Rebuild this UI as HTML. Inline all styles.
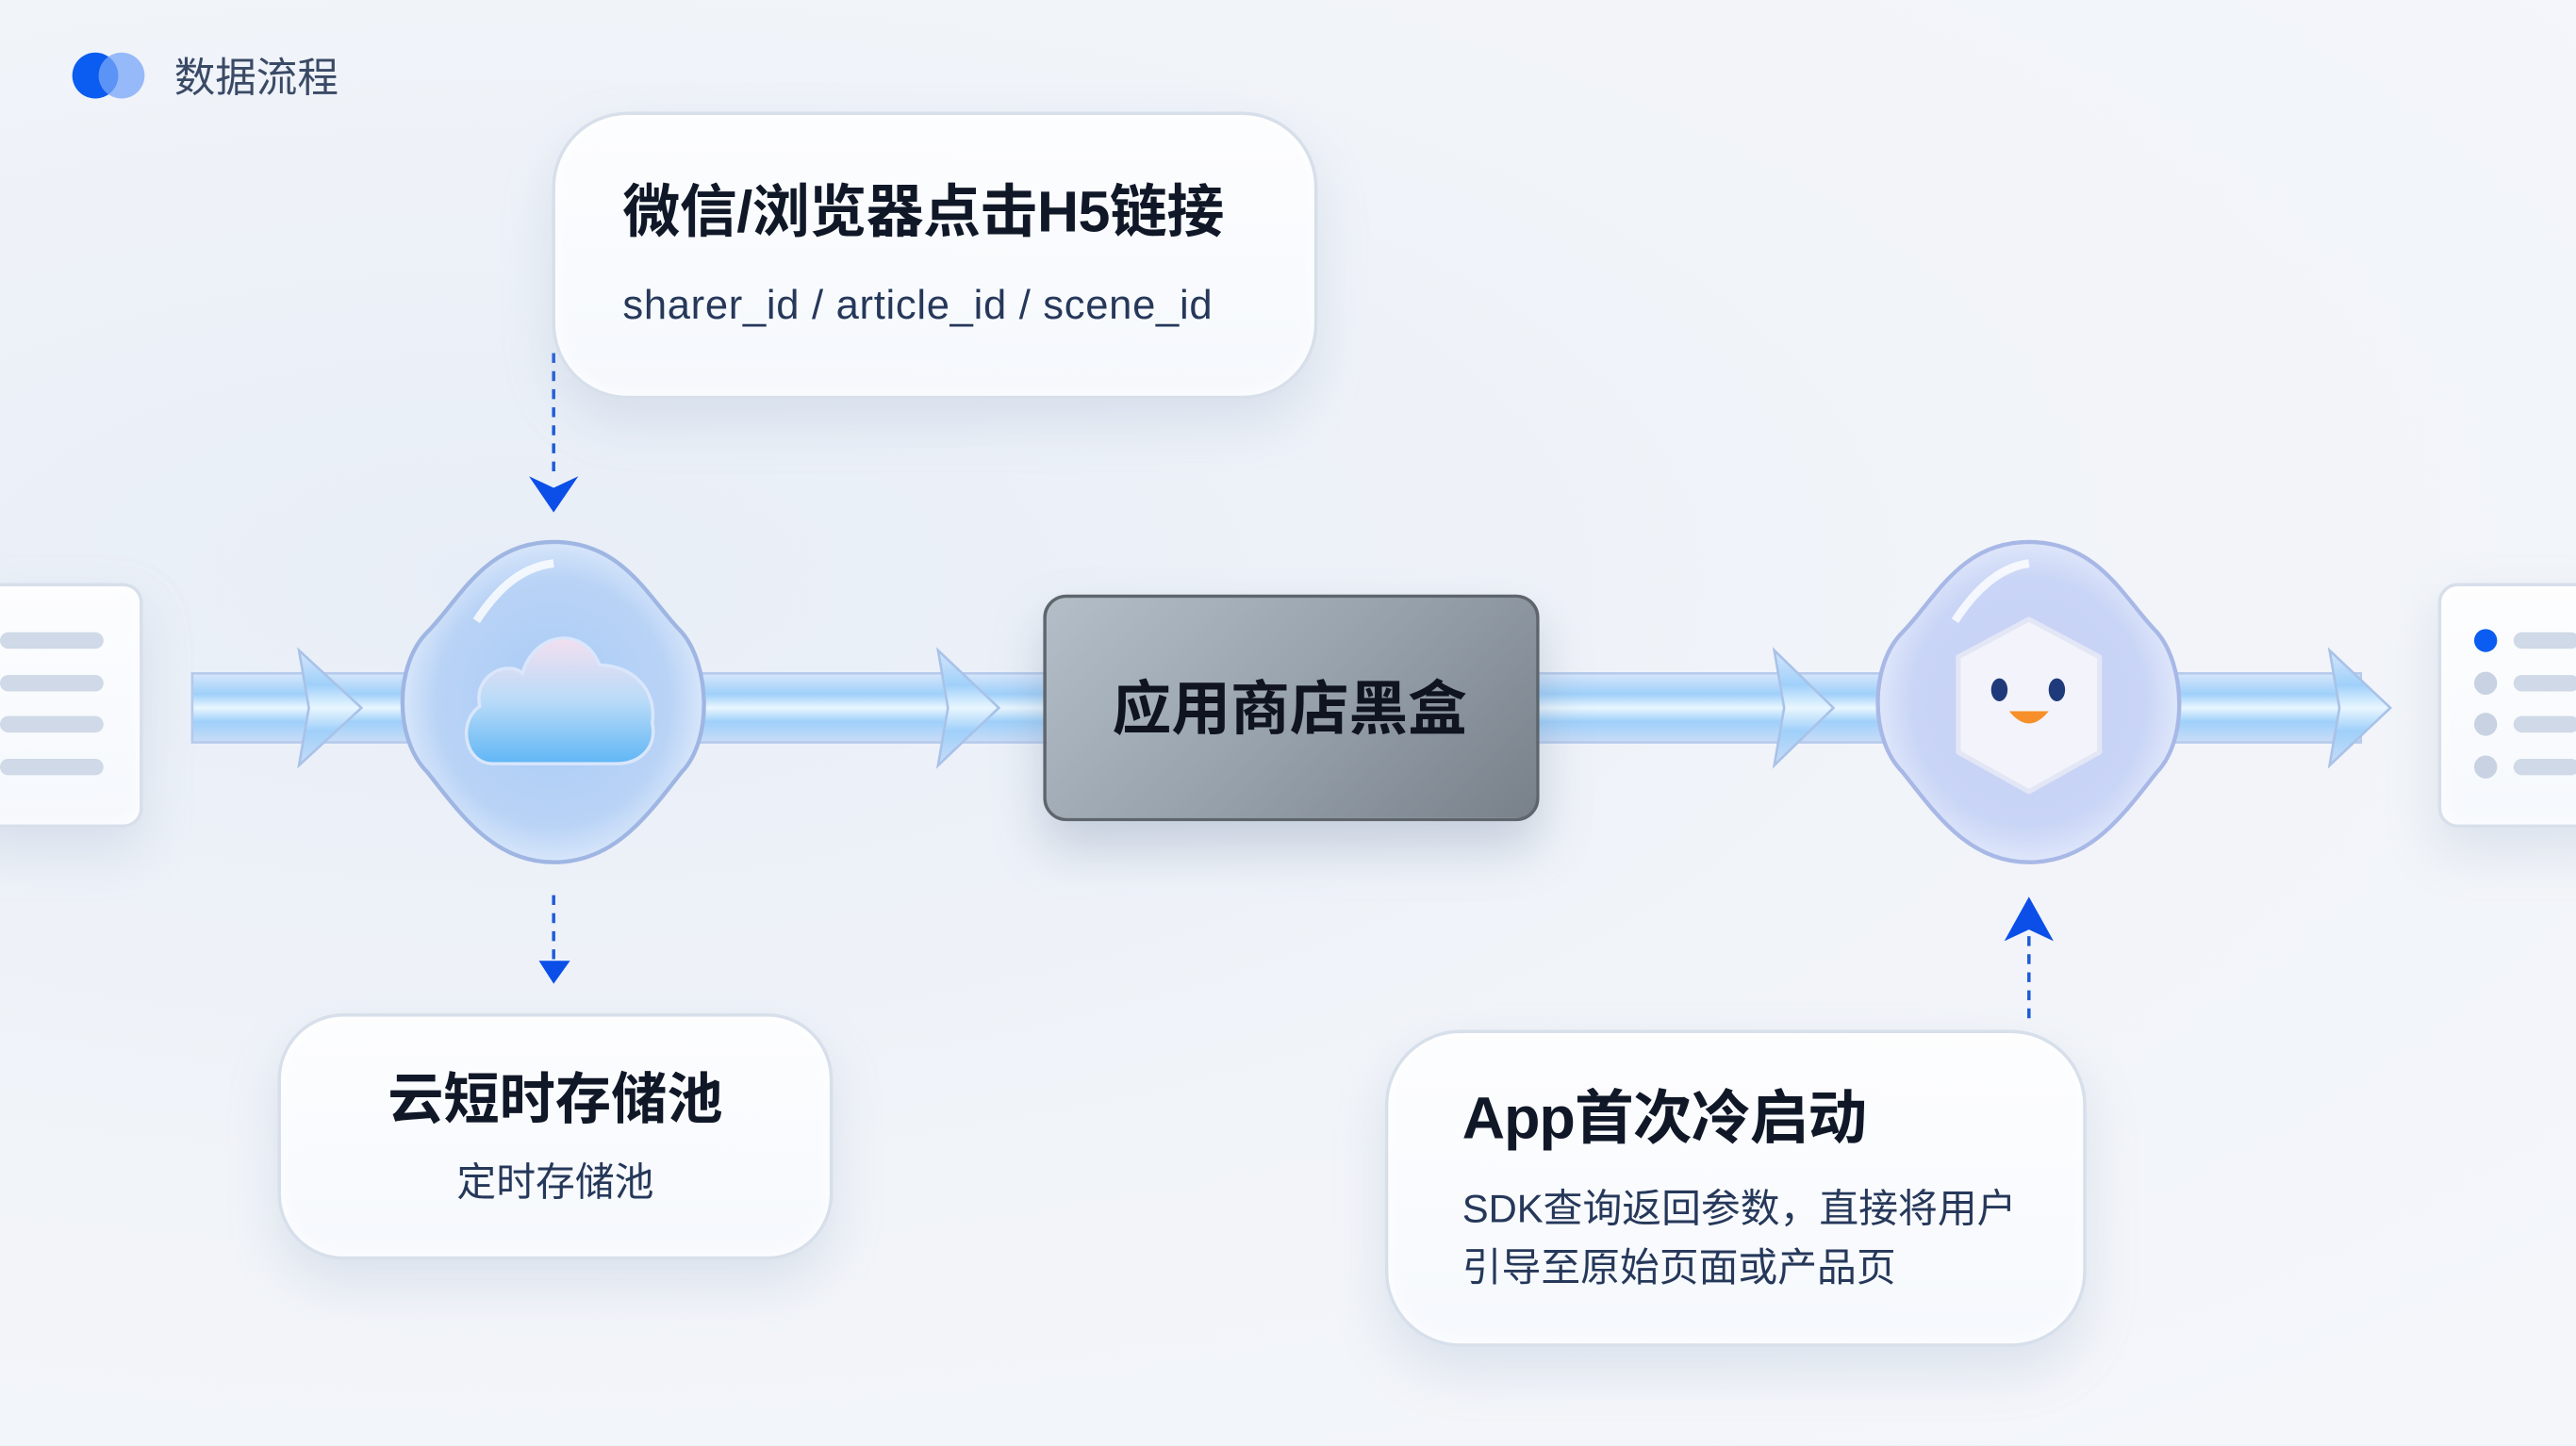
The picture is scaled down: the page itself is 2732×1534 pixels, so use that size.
<!DOCTYPE html>
<html><head><meta charset="utf-8"><style>
html,body{margin:0;padding:0;width:2732px;height:1534px;overflow:hidden;background:#eef2f8;}
#w{position:absolute;left:0;top:0;width:1568px;height:880px;transform:scale(1.74235);transform-origin:0 0;
background:radial-gradient(ellipse at 20% 40%,#e8eef7 0%,#f1f4f9 50%,#f4f6fa 100%);
font-family:"Liberation Sans","Noto Sans CJK SC",sans-serif;}
.a{position:absolute;}
.card{position:absolute;background:linear-gradient(180deg,rgba(255,255,255,0.85),rgba(246,249,253,0.9));border:2px solid #d7dfea;box-shadow:0 14px 30px rgba(150,170,200,0.25), inset 0 0 12px rgba(255,255,255,0.9);}
.t{position:absolute;white-space:nowrap;}
</style></head><body><div id="w">
<div class="a" style="left:44px;top:32px;width:28px;height:28px;border-radius:50%;background:#0b5cf0;"></div>
<div class="a" style="left:60px;top:32px;width:28px;height:28px;border-radius:50%;background:rgba(120,165,250,0.75);"></div>
<div class="t" style="left:106px;top:28px;font-size:25px;color:#3a4a66;">数据流程</div>

<svg class="a" style="left:0;top:0" width="1568" height="880">
<defs>
<linearGradient id="pg" x1="0" y1="0" x2="0" y2="1">
<stop offset="0" stop-color="#d6e6fb"/><stop offset="0.3" stop-color="#9fd0fa"/><stop offset="0.5" stop-color="#e9f6ff"/><stop offset="0.7" stop-color="#9fd0fa"/><stop offset="1" stop-color="#c9dcf7"/></linearGradient>
<radialGradient id="ng" cx="0.5" cy="0.5" r="0.55"><stop offset="0" stop-color="#a9cbf5"/><stop offset="0.7" stop-color="#b9d3f6"/><stop offset="1" stop-color="#e4eefc"/></radialGradient>
<radialGradient id="ng2" cx="0.5" cy="0.5" r="0.55"><stop offset="0" stop-color="#c6cff7"/><stop offset="0.7" stop-color="#c9d5f6"/><stop offset="1" stop-color="#e8eefc"/></radialGradient>
<linearGradient id="cg" x1="0" y1="0" x2="0" y2="1"><stop offset="0" stop-color="#f3dff0"/><stop offset="0.5" stop-color="#b9dbf8"/><stop offset="1" stop-color="#5fb6f5"/></linearGradient>
</defs>
<rect x="117" y="410" width="1320" height="42" fill="url(#pg)" stroke="#b6cbeb" stroke-width="1.5"/>
<g fill="url(#pg)" stroke="#a9c2e8" stroke-width="1.5">
<path d="M182 396 L220 431 L182 466 L188 431 Z"/>
<path d="M571 396 L608 431 L571 466 L577 431 Z"/>
<path d="M1080 396 L1116 431 L1080 466 L1086 431 Z"/>
<path d="M1418 396 L1455 431 L1418 466 L1424 431 Z"/>
</g>
<path d="M337 330 C380 330 395 365 415 385 C432 405 434 450 415 470 C395 495 375 525 337 525 C300 525 280 495 260 470 C240 450 240 405 260 385 C280 365 295 330 337 330 Z" fill="url(#ng)" stroke="#9fb6e3" stroke-width="2.5"/>
<path d="M290 378 C305 355 320 345 337 343" stroke="#fff" stroke-width="5" fill="none" opacity="0.8"/>
<path d="M300 465 C283 465 278 440 292 430 C288 410 310 402 318 410 C325 385 355 380 365 405 C385 405 400 420 397 440 C400 455 390 465 375 465 Z" fill="url(#cg)" stroke="#d9e6fb" stroke-width="2"/>
<path d="M1235 330 C1278 330 1293 365 1313 385 C1330 405 1332 450 1313 470 C1293 495 1273 525 1235 525 C1198 525 1178 495 1158 470 C1138 450 1138 405 1158 385 C1178 365 1193 330 1235 330 Z" fill="url(#ng2)" stroke="#a8b8e6" stroke-width="2.5"/>
<path d="M1190 378 C1205 355 1220 345 1235 343" stroke="#fff" stroke-width="5" fill="none" opacity="0.8"/>
<path d="M1235 377 L1278 400 L1278 458 L1235 482 L1192 458 L1192 400 Z" fill="#f3f4fb" stroke="#e2e6f5" stroke-width="3" stroke-linejoin="round"/>
<ellipse cx="1217" cy="420" rx="5" ry="7" fill="#1f3a7a"/>
<ellipse cx="1252" cy="420" rx="5" ry="7" fill="#1f3a7a"/>
<path d="M1223 433 Q1235 448 1247 433 Z" fill="#f7902a"/>
<line x1="337" y1="215" x2="337" y2="292" stroke="#1d5bd8" stroke-width="2" stroke-dasharray="6 5"/>
<path d="M322 290 L337 312 L352 290 L337 297 Z" fill="#0b4fe8"/>
<line x1="337" y1="545" x2="337" y2="587" stroke="#1d5bd8" stroke-width="2" stroke-dasharray="6 5"/>
<path d="M328 585 L337 599 L347 585 Z" fill="#0b4fe8"/>
<line x1="1235" y1="570" x2="1235" y2="625" stroke="#1d5bd8" stroke-width="2" stroke-dasharray="6 5"/>
<path d="M1220 573 L1235 546 L1250 573 L1235 566 Z" fill="#0b4fe8"/>
</svg>

<div class="card" style="left:-20px;top:355px;width:103px;height:145px;border-radius:12px;"></div>
<div class="a" style="left:0;top:385px;width:63px;height:10px;border-radius:5px;background:#cfd9e7"></div>
<div class="a" style="left:0;top:411px;width:63px;height:10px;border-radius:5px;background:#cfd9e7"></div>
<div class="a" style="left:0;top:436px;width:63px;height:10px;border-radius:5px;background:#cfd9e7"></div>
<div class="a" style="left:0;top:462px;width:63px;height:10px;border-radius:5px;background:#cfd9e7"></div>
<div class="card" style="left:1484px;top:355px;width:110px;height:145px;border-radius:12px;"></div>
<div class="a" style="left:1506px;top:383px;width:14px;height:14px;border-radius:50%;background:#0b5cf0"></div>
<div class="a" style="left:1506px;top:409px;width:14px;height:14px;border-radius:50%;background:#c8d2e2"></div>
<div class="a" style="left:1506px;top:434px;width:14px;height:14px;border-radius:50%;background:#c8d2e2"></div>
<div class="a" style="left:1506px;top:460px;width:14px;height:14px;border-radius:50%;background:#c8d2e2"></div>
<div class="a" style="left:1530px;top:385px;width:40px;height:10px;border-radius:5px;background:#cfd9e7"></div>
<div class="a" style="left:1530px;top:411px;width:40px;height:10px;border-radius:5px;background:#cfd9e7"></div>
<div class="a" style="left:1530px;top:436px;width:40px;height:10px;border-radius:5px;background:#cfd9e7"></div>
<div class="a" style="left:1530px;top:462px;width:40px;height:10px;border-radius:5px;background:#cfd9e7"></div>

<div class="a" style="left:635px;top:362px;width:298px;height:134px;border-radius:14px;background:linear-gradient(135deg,#b4bec8 0%,#98a2ac 50%,#78818a 100%);border:2px solid #5e656c;box-shadow:0 16px 30px rgba(120,140,170,0.35);"></div>
<div class="t" style="left:635px;top:407px;width:300px;text-align:center;font-size:36px;font-weight:bold;color:#0f1420;line-height:50px;">应用商店黑盒</div>

<div class="card" style="left:336px;top:68px;width:462px;height:171px;border-radius:46px;"></div>
<div class="t" style="left:379px;top:106px;font-size:35px;font-weight:bold;color:#101828;line-height:48px;letter-spacing:-0.3px;">微信/浏览器点击H5链接</div>
<div class="t" style="left:379px;top:170px;font-size:25px;color:#26385a;line-height:32px;letter-spacing:0.4px;">sharer_id / article_id / scene_id</div>

<div class="card" style="left:169px;top:617px;width:334px;height:146px;border-radius:40px;"></div>
<div class="t" style="left:169px;top:647px;width:338px;text-align:center;font-size:34px;font-weight:bold;color:#101828;line-height:46px;">云短时存储池</div>
<div class="t" style="left:169px;top:705px;width:338px;text-align:center;font-size:24px;color:#26385a;line-height:32px;">定时存储池</div>

<div class="card" style="left:843px;top:627px;width:423px;height:189px;border-radius:46px;"></div>
<div class="t" style="left:890px;top:657px;font-size:36px;font-weight:bold;color:#101828;line-height:48px;letter-spacing:-0.5px;">App首次冷启动</div>
<div class="t" style="left:890px;top:719px;font-size:24px;color:#26385a;line-height:36px;">SDK查询返回参数，直接将用户<br>引导至原始页面或产品页</div>
</div></body></html>
